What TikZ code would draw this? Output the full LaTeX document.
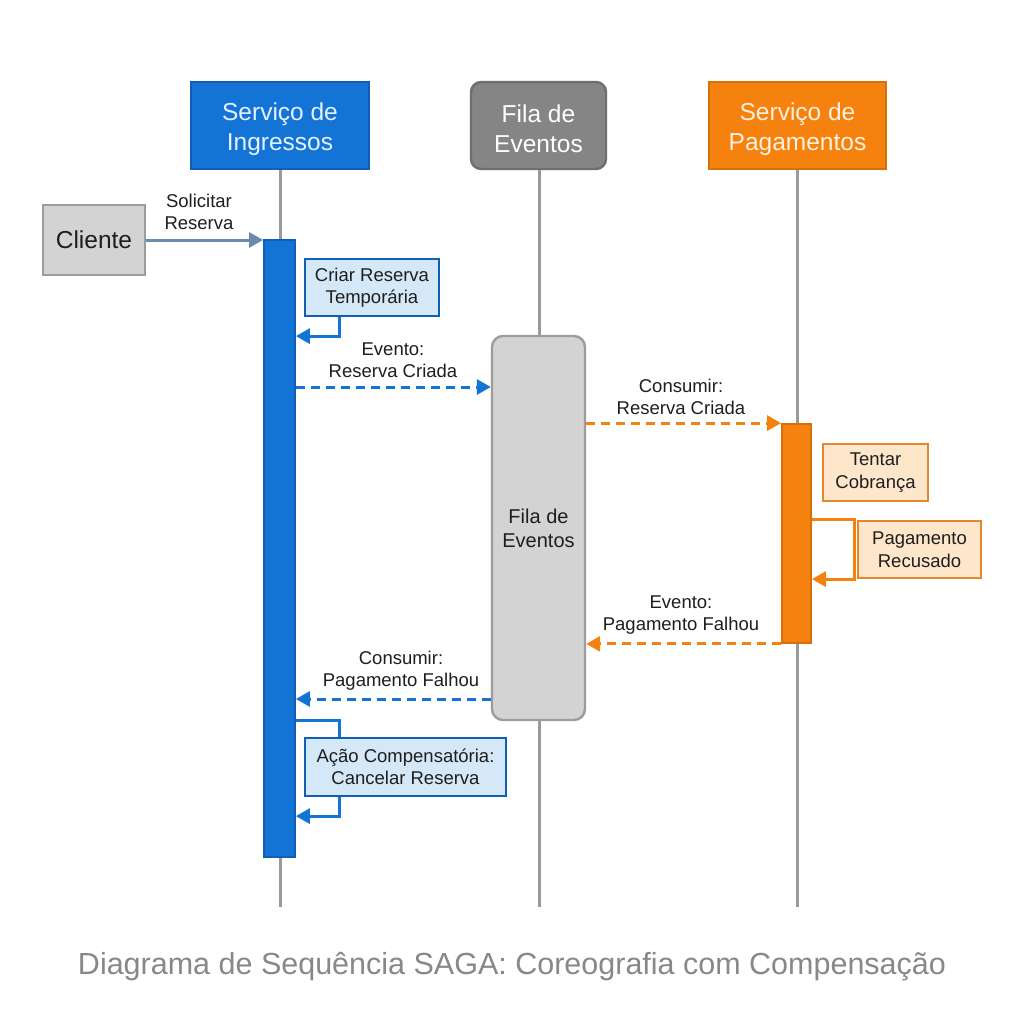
\documentclass[tikz,border=0pt]{standalone}
\usepackage{fontspec}
\setmainfont{Liberation Sans}
\usetikzlibrary{arrows.meta,calc}
\definecolor{blueH}{HTML}{1474D6}
\definecolor{blueD}{HTML}{0F5FB5}
\definecolor{blueL}{HTML}{D5E8F8}
\definecolor{blueT}{HTML}{E6F1FF}
\definecolor{grayH}{HTML}{858585}
\definecolor{grayD}{HTML}{6E6E6E}
\definecolor{grayL}{HTML}{D3D3D3}
\definecolor{grayB}{HTML}{9C9C9C}
\definecolor{life}{HTML}{9A9A9A}
\definecolor{oraH}{HTML}{F5820F}
\definecolor{oraD}{HTML}{D8700A}
\definecolor{oraL}{HTML}{FDE6C9}
\definecolor{oraB}{HTML}{E0892E}
\definecolor{oraT}{HTML}{FFF1DE}
\definecolor{steel}{HTML}{6B8BAE}
\definecolor{titleC}{HTML}{888888}
\definecolor{txt}{HTML}{1E1E1E}
\begin{document}
\begin{tikzpicture}[x=1pt,y=-1pt,
  box/.style={rectangle,inner sep=0pt,align=center},
  hdr/.style={box,line width=2.4pt},
  htxt/.style={align=center,inner sep=0pt,font=\fontsize{24.5}{30}\selectfont},
  note/.style={box,line width=2.2pt,text=txt,font=\fontsize{18.5}{22.5}\selectfont},
  lbl/.style={align=center,inner sep=0pt,text=txt,font=\fontsize{18.5}{22}\selectfont},
  lifeline/.style={draw=life,line width=3pt},
  tip/.style={-{Triangle[length=14pt,width=15pt]}},
  bline/.style={draw=blueH,line width=3pt,tip},
  oline/.style={draw=oraH,line width=3pt,tip},
  dashp/.style={dash pattern=on 9pt off 6pt}
]
\useasboundingbox[fill=white] (0,0) rectangle (1024,1024);

% headers
\node[hdr,fill=blueH,draw=blueD,minimum width=178pt,minimum height=87pt] (h1) at (280,125.5) {};
\node[hdr,fill=grayH,draw=grayD,rounded corners=10pt,minimum width=135pt,minimum height=87pt] (h2) at (538.5,125.5) {};
\node[hdr,fill=oraH,draw=oraD,minimum width=177pt,minimum height=87pt] (h3) at (797.5,125.5) {};
\node[htxt,text=blueT] (h1t) at ([yshift=-3.5pt]h1.center) {Serviço de\\Ingressos};
\node[htxt,text=white] (h2t) at ([yshift=-3.5pt]h2.center) {Fila de\\Eventos};
\node[htxt,text=oraT] (h3t) at ([yshift=-3.5pt]h3.center) {Serviço de\\Pagamentos};

% lifeline ends
\coordinate (e1) at (280,907);
\coordinate (e2) at (539,907);
\coordinate (e3) at (797,907);
\draw[lifeline] (h1.south -| e1) -- (e1);
\draw[lifeline] (h2.south -| e2) -- (e2);
\draw[lifeline] (h3.south -| e3) -- (e3);

% client
\node[box,fill=grayL,draw=grayB,line width=2.4pt,text=txt,minimum width=102pt,minimum height=70pt,font=\fontsize{24.5}{28}\selectfont] (cli) at (94,240) {Cliente};

% activation bars
\node[box,fill=blueH,draw=blueD,line width=1.8pt,minimum width=31pt,minimum height=617pt] (b1) at (279.5,548.5) {};
\node[box,fill=grayL,draw=grayB,line width=2.4pt,rounded corners=11pt,text=txt,minimum width=93pt,minimum height=384pt,font=\fontsize{20}{24}\selectfont] (fila) at (538.5,528) {Fila de\\Eventos};
\node[box,fill=oraH,draw=oraD,line width=1.8pt,minimum width=29pt,minimum height=219pt] (b3) at (796.5,533.5) {};

% notes
\node[note,fill=blueL,draw=blueD,minimum width=134pt,minimum height=57pt] (crb) at (372,287.5) {Criar Reserva\\Temporária};
\node[note,fill=oraL,draw=oraB,minimum width=105pt,minimum height=57pt] (tent) at (875.5,472.5) {Tentar\\Cobrança};
\node[note,fill=oraL,draw=oraB,minimum width=123pt,minimum height=57pt] (rec) at (919.5,549.5) {Pagamento\\Recusado};
\node[note,fill=blueL,draw=blueD,minimum width=201pt,minimum height=58pt] (acao) at (405.5,767) {Ação Compensatória:\\Cancelar Reserva};

% labels
\node[lbl] (l1) at (199,212) {Solicitar\\Reserva};
\node[lbl] (l2) at (393,360) {Evento:\\Reserva Criada};
\node[lbl] (l3) at (681,397) {Consumir:\\Reserva Criada};
\node[lbl] (l4) at (681,615) {Evento:\\Pagamento Falhou};
\node[lbl] (l5) at (401,671) {Consumir:\\Pagamento Falhou};

% arrows
\draw[draw=steel,line width=3pt,tip] (cli.east) -- (cli.east -| b1.west);
\draw[bline] ([xshift=36pt]crb.south west) -- ++(0,19) coordinate (c1) -- (c1 -| b1.east);
\draw[bline,dashp] (b1.east |- 0,387) -- (fila.west |- 0,387);
\draw[oline,dashp] (fila.east |- b3.north) -- (b3.north west);
\draw[oline] (b3.east |- rec.north) -- ([xshift=-2pt]rec.north west) -- ([xshift=-2pt]rec.south west) -- (b3.east |- rec.south);
\draw[oline,dashp] (b3.south west) -- (fila.east |- b3.south);
\draw[bline,dashp] (fila.west |- 0,699) -- (b1.east |- 0,699);
\draw[draw=blueH,line width=3pt] (b1.east |- 0,720) -- ([xshift=36pt]acao.north west |- 0,720) -- ([xshift=36pt]acao.north west);
\draw[bline] ([xshift=36pt]acao.south west) -- ++(0,19) coordinate (c2) -- (c2 -| b1.east);

% title
\node[text=titleC,font=\fontsize{30.5}{34}\selectfont,inner sep=0pt] (title) at (512,967) {Diagrama de Sequência SAGA: Coreografia com Compensação};
\end{tikzpicture}
\end{document}
